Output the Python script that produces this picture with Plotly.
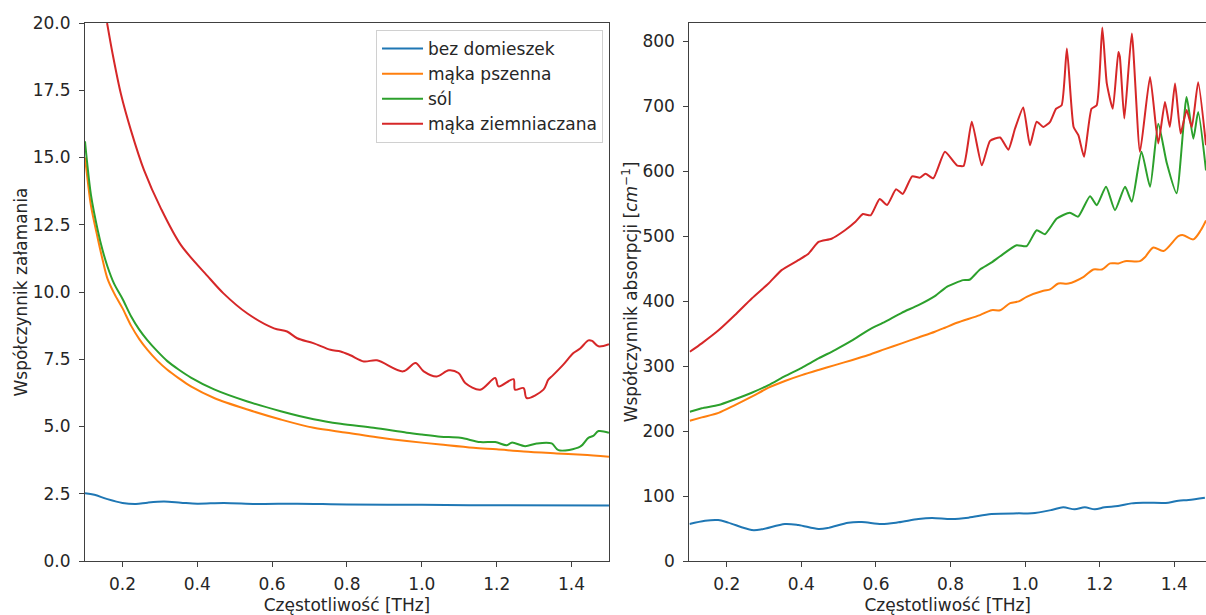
import plotly.graph_objects as go

# ---------------- Left panel: refractive index ----------------
n_f_blue = [0.1, 0.125, 0.16, 0.2, 0.236, 0.267, 0.311, 0.356, 0.4, 0.471, 0.56, 0.667, 0.8, 1.0, 1.2, 1.5]
n_blue = [2.52, 2.46, 2.3, 2.16, 2.12, 2.17, 2.21, 2.17, 2.13, 2.16, 2.12, 2.13, 2.1, 2.09, 2.07, 2.06]

n_f_orange = [0.1, 0.105, 0.116, 0.134, 0.147, 0.16, 0.178, 0.2, 0.223, 0.245, 0.267, 0.293, 0.32, 0.35,
              0.383, 0.445, 0.534, 0.623, 0.711, 0.8, 0.88, 0.96, 1.05, 1.138, 1.2, 1.272, 1.36, 1.43, 1.5]
n_orange = [15.0, 14.4, 13.2, 12.0, 11.2, 10.5, 9.95, 9.4, 8.75, 8.25, 7.85, 7.45, 7.11, 6.8,
            6.49, 6.06, 5.63, 5.26, 4.95, 4.77, 4.6, 4.46, 4.33, 4.21, 4.15, 4.07, 4.0, 3.95, 3.88]

n_f_green = [0.1, 0.105, 0.116, 0.134, 0.147, 0.16, 0.178, 0.2, 0.223, 0.245, 0.267, 0.293, 0.32, 0.35,
             0.383, 0.445, 0.534, 0.623, 0.711, 0.783, 0.871, 0.96, 1.0, 1.05, 1.103, 1.156, 1.196, 1.227,
             1.24, 1.276, 1.307, 1.347, 1.365, 1.423, 1.445, 1.458, 1.472, 1.5]
n_green = [15.6, 14.9, 13.6, 12.3, 11.55, 10.95, 10.3, 9.75, 9.1, 8.6, 8.2, 7.8, 7.43, 7.12,
           6.82, 6.38, 5.93, 5.57, 5.27, 5.1, 4.95, 4.77, 4.7, 4.62, 4.58, 4.42, 4.42, 4.3,
           4.4, 4.27, 4.37, 4.37, 4.12, 4.25, 4.58, 4.65, 4.83, 4.77]

n_f_red = [0.159, 0.174, 0.196, 0.223, 0.258, 0.303, 0.356, 0.427, 0.47, 0.534, 0.605, 0.64, 0.667, 0.71,
           0.756, 0.783, 0.809, 0.845, 0.88, 0.95, 0.983, 1.005, 1.04, 1.072, 1.098, 1.116, 1.156, 1.196,
           1.205, 1.245, 1.249, 1.272, 1.28, 1.325, 1.338, 1.35, 1.378, 1.405, 1.423, 1.445, 1.455, 1.472, 1.5]
n_red = [20.0, 18.84, 17.36, 16.0, 14.52, 13.1, 11.75, 10.6, 9.95, 9.2, 8.65, 8.53, 8.28, 8.1,
         7.85, 7.79, 7.65, 7.42, 7.46, 7.05, 7.36, 7.05, 6.86, 7.09, 6.99, 6.62, 6.37, 6.8,
         6.49, 6.76, 6.37, 6.43, 6.06, 6.37, 6.74, 6.9, 7.3, 7.73, 7.9, 8.2, 8.18, 7.98, 8.06]

# ---------------- Right panel: absorption coefficient ----------------
a_f_blue = [0.1, 0.142, 0.177, 0.204, 0.267, 0.294, 0.356, 0.392, 0.446, 0.473, 0.526, 0.562, 0.615, 0.66,
            0.714, 0.75, 0.803, 0.848, 0.91, 0.982, 1.018, 1.071, 1.102, 1.133, 1.16, 1.187, 1.213, 1.249,
            1.285, 1.321, 1.384, 1.411, 1.438, 1.482]
a_blue = [56.9, 62, 63, 59, 47.7, 48.7, 57, 55.4, 49.2, 51, 59, 60, 56.9, 59.5,
          64.6, 66.2, 64.6, 66.7, 72.3, 73.3, 73.3, 78.5, 82.6, 79.5, 82.6, 79.5, 82.6, 84.6,
          88.7, 89.7, 89.7, 92.8, 93.8, 97.4]

a_f_orange = [0.101, 0.133, 0.178, 0.222, 0.267, 0.312, 0.356, 0.401, 0.446, 0.49, 0.535, 0.58, 0.624, 0.669,
              0.714, 0.758, 0.785, 0.817, 0.879, 0.91, 0.933, 0.96, 0.983, 1.004, 1.049, 1.067, 1.089, 1.116,
              1.157, 1.183, 1.206, 1.228, 1.25, 1.268, 1.308, 1.322, 1.344, 1.371, 1.411, 1.424, 1.451, 1.471, 1.485]
a_orange = [215.9, 221, 228, 240, 253, 266.7, 277, 286, 294, 301.5, 309, 317, 326, 335,
            344, 352.8, 359, 366.6, 378.5, 386, 386, 397, 399.5, 406.6, 415.8, 418, 427, 427,
            437.4, 448.7, 448.7, 458, 458, 461.5, 461.5, 468, 482.6, 477, 500, 501.5, 495, 509, 524]

a_f_green = [0.101, 0.133, 0.178, 0.222, 0.267, 0.312, 0.356, 0.401, 0.446, 0.49, 0.535, 0.58, 0.624, 0.669,
             0.714, 0.758, 0.79, 0.834, 0.851, 0.879, 0.906, 0.933, 0.977, 1.004, 1.031, 1.053, 1.085, 1.12,
             1.142, 1.174, 1.192, 1.217, 1.241, 1.268, 1.286, 1.312, 1.335, 1.357, 1.38, 1.406, 1.433, 1.451,
             1.464, 1.485]
a_green = [229.7, 235, 240, 249, 259, 270.8, 284.6, 297.4, 311.8, 324.6, 339, 355.4, 368, 382,
           393.8, 407.7, 422, 432.3, 432.8, 448.7, 458, 469, 486, 484.6, 509, 503, 527, 536,
           530, 561.5, 547.7, 576, 540, 576, 553, 630, 576, 673, 612, 566, 714, 650,
           691, 601]

a_f_red = [0.101, 0.133, 0.178, 0.222, 0.267, 0.312, 0.347, 0.392, 0.419, 0.446, 0.481, 0.517, 0.545, 0.565,
           0.586, 0.61, 0.63, 0.654, 0.672, 0.697, 0.718, 0.733, 0.754, 0.785, 0.817, 0.835, 0.857, 0.884,
           0.906, 0.933, 0.955, 0.973, 0.995, 1.013, 1.031, 1.049, 1.067, 1.083, 1.098, 1.112, 1.13, 1.143,
           1.158, 1.178, 1.192, 1.207, 1.219, 1.235, 1.25, 1.254, 1.266, 1.286, 1.308, 1.335, 1.357, 1.375,
           1.388, 1.402, 1.417, 1.433, 1.447, 1.464, 1.485]
a_red = [322, 335, 355, 378.5, 404, 427, 447.7, 463, 473, 491, 496, 509, 522, 534,
         532, 557, 548, 572, 565, 592, 590, 596, 589, 629.7, 609, 608, 676, 609,
         646.6, 651.8, 633, 665.6, 698, 640, 676, 668, 676, 696, 701.5, 788.7, 668, 655,
         622, 696, 701.5, 821, 735, 696, 783.5, 776, 681, 812, 629.7, 745, 642.6, 706.6,
         668, 735, 658, 694, 668, 737, 640]

series_names = ["bez domieszek", "mąka pszenna", "sól", "mąka ziemniaczana"]
colors = ["#1f77b4", "#ff7f0e", "#2ca02c", "#d62728"]

left = [(n_f_blue, n_blue), (n_f_orange, n_orange), (n_f_green, n_green), (n_f_red, n_red)]
right = [(a_f_blue, a_blue), (a_f_orange, a_orange), (a_f_green, a_green), (a_f_red, a_red)]
right_smooth = [0.9, 0.8, 0.55, 0.5]

fig = go.Figure()
for (fx, fy), name, c in zip(left, series_names, colors):
    fig.add_trace(go.Scatter(x=fx, y=fy, mode="lines", name=name,
                             line=dict(color=c, width=2, shape="spline", smoothing=0.9),
                             xaxis="x", yaxis="y", showlegend=True))
for (fx, fy), name, c, sm in zip(right, series_names, colors, right_smooth):
    fig.add_trace(go.Scatter(x=fx, y=fy, mode="lines", name=name,
                             line=dict(color=c, width=2, shape="spline", smoothing=sm),
                             xaxis="x2", yaxis="y2", showlegend=False))

FONT = dict(family="DejaVu Sans", size=17, color="#262626")
axis_common = dict(showline=True, linecolor="#404040", linewidth=1.2, ticks="outside", ticklen=5,
                   tickwidth=1.2, tickcolor="#404040", showgrid=False, zeroline=False,
                   tickfont=FONT, automargin=False)

fig.update_layout(
    template="none",
    width=1206, height=615,
    margin=dict(l=85, r=0, t=23, b=54),
    paper_bgcolor="white", plot_bgcolor="white",
    font=FONT,
    xaxis=dict(domain=[0, 0.4674], range=[0.1, 1.5], tickmode="linear", tick0=0.2, dtick=0.2,
               tickformat=".1f", mirror=True, anchor="y", ticklabelstandoff=2,
               title=dict(text="Częstotliwość [THz]", font=FONT, standoff=6), **axis_common),
    yaxis=dict(range=[0, 20], tickmode="linear", tick0=0, dtick=2.5, tickformat=".1f", mirror=True,
               anchor="x", ticklabelstandoff=5,
               title=dict(text="Współczynnik załamania", font=FONT, standoff=0), **axis_common),
    xaxis2=dict(domain=[0.5392, 1], range=[0.1, 1.485], tickmode="linear", tick0=0.2, dtick=0.2,
                tickformat=".1f", mirror=True, anchor="y2", ticklabelstandoff=2,
                title=dict(text="Częstotliwość [THz]", font=FONT, standoff=6), **axis_common),
    yaxis2=dict(range=[0, 828], tickmode="linear", tick0=0, dtick=100, anchor="x2", mirror=False,
                ticklabelstandoff=5,
                title=dict(text="Współczynnik absorpcji [<i>cm</i><sup>−1</sup>]", font=FONT, standoff=0),
                **axis_common),
    legend=dict(x=0.4621, y=0.987, xanchor="right", yanchor="top", bgcolor="rgba(255,255,255,0.85)",
                bordercolor="#d0d0d0", borderwidth=1, font=FONT, tracegroupgap=0, itemwidth=41),
)

fig.write_html("out.html", config={"displayModeBar": False},
               post_script="document.body.style.margin='0px';")
